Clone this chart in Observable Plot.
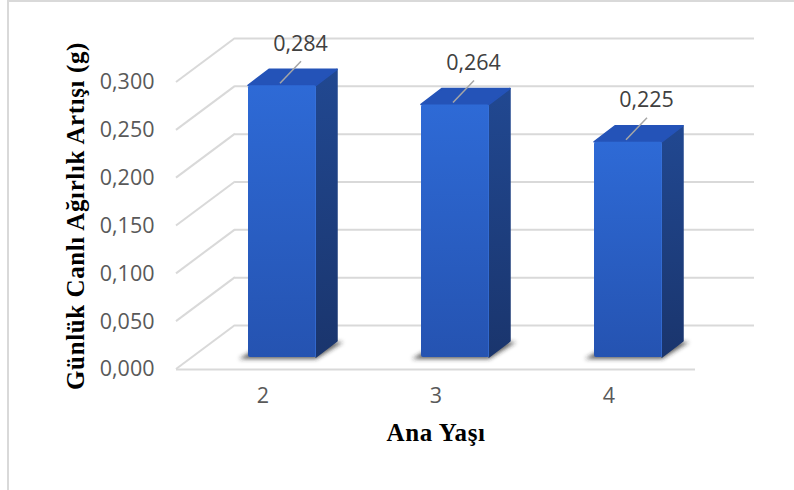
<!DOCTYPE html>
<html>
<head>
<meta charset="utf-8">
<script src="https://cdn.jsdelivr.net/npm/d3@7"></script>
<script src="https://cdn.jsdelivr.net/npm/@observablehq/plot@0.6"></script>
<style>
  body { margin: 0; background: #fff; }
  #chart { position: relative; width: 794px; height: 490px; overflow: hidden; background: #fff; }
  #chart .frame { position: absolute; left: 7px; top: 0; width: 820px; height: 520px;
    border-left: 2px solid #d9d9d9; border-top: 2px solid #d9d9d9; }
  #chart svg { position: absolute; left: 0; top: 0; }
</style>
</head>
<body>
<div id="chart"><div class="frame"></div></div>
<script>
// Daily live-weight gain by dam age
const ages = ["2", "3", "4"];
const gains = [0.284, 0.264, 0.225];
const yTicks = [0, 0.05, 0.1, 0.15, 0.2, 0.25, 0.3];
const xTitle = "Ana Yaşı";
const yTitle = "Günlük Canlı Ağırlık Artışı (g)";

const data = ages.map((age, i) => ({age, gain: gains[i]}));
const fmt = d => d3.format(".3f")(d).replace(".", ",");

// Oblique projection offsets (pixels)
const WALL = {dx: 59, dy: -44};       // front plane -> back wall
const BAR_AT = {dx: 19.5, dy: -12};   // front plane -> bar front face
const BAR_DEPTH = {dx: 21, dy: -16};  // bar front face -> bar back face
const BAR_WIDTH = 68;
const GRID = "#d9d9d9";

// Diagonal gridlines on the left side wall
function sideWall(index, scales, values, dimensions) {
  const g = d3.create("svg:g").attr("stroke", GRID).attr("stroke-width", 2);
  for (const i of index) {
    const y = values.y[i];
    g.append("line")
      .attr("x1", dimensions.marginLeft).attr("y1", y)
      .attr("x2", dimensions.marginLeft + WALL.dx).attr("y2", y + WALL.dy);
  }
  return g.node();
}

// Columns drawn as boxes: shadow, front, side, top, and the label leader
function bars3d(index, scales, values, dimensions) {
  const g = d3.create("svg:g");
  const defs = g.append("defs");
  const grad = (id, stops) => {
    const lg = defs.append("linearGradient").attr("id", id)
      .attr("x1", 0).attr("y1", 0).attr("x2", 0).attr("y2", 1);
    for (const [o, c] of stops) lg.append("stop").attr("offset", o).attr("stop-color", c);
  };
  grad("bar-front", [[0, "#2e6ad6"], [1, "#2553b1"]]);
  grad("bar-side", [[0, "#214891"], [1, "#1a356d"]]);
  defs.append("filter").attr("id", "bar-shadow")
    .attr("x", "-30%").attr("y", "-100%").attr("width", "160%").attr("height", "300%")
    .append("feGaussianBlur").attr("stdDeviation", 2.2);

  const bw = scales.x.bandwidth();
  const pts = a => a.map(p => p.join(",")).join(" ");
  for (const i of index) {
    const x0 = values.x[i] + (bw - BAR_WIDTH) / 2 + BAR_AT.dx;
    const x1 = x0 + BAR_WIDTH;
    const yb = Math.max(values.y1[i], values.y2[i]) + BAR_AT.dy;
    const yt = Math.min(values.y1[i], values.y2[i]) + BAR_AT.dy;
    const dx = BAR_DEPTH.dx, dy = BAR_DEPTH.dy;

    g.append("polygon")
      .attr("points", pts([[x0 - 9, yb + 2], [x1, yb + 2], [x1 + dx + 6, yb + dy + 1], [x0 + dx, yb + dy]]))
      .attr("fill", "#2b2b2b").attr("fill-opacity", 0.75).attr("filter", "url(#bar-shadow)");

    g.append("polygon")
      .attr("points", pts([[x1, yb], [x1, yt], [x1 + dx, yt + dy], [x1 + dx, yb + dy]]))
      .attr("fill", "url(#bar-side)")
      .attr("stroke", "url(#bar-side)").attr("stroke-width", 1.5).attr("stroke-linejoin", "round");

    g.append("polygon")
      .attr("points", pts([[x0, yt], [x1, yt], [x1 + dx, yt + dy], [x0 + dx, yt + dy]]))
      .attr("fill", "#2453b8")
      .attr("stroke", "#2453b8").attr("stroke-width", 1.5).attr("stroke-linejoin", "round");

    g.append("rect")
      .attr("x", x0).attr("y", yt).attr("width", BAR_WIDTH).attr("height", yb - yt)
      .attr("rx", 2).attr("fill", "url(#bar-front)");
    g.append("line")
      .attr("x1", x1 - 0.5).attr("y1", yt + 2).attr("x2", x1 - 0.5).attr("y2", yb)
      .attr("stroke", "#3a74dc").attr("stroke-opacity", 0.6).attr("stroke-width", 1);

    const xc = (x0 + x1) / 2;
    g.append("line")
      .attr("x1", xc - 2).attr("y1", yt - 2).attr("x2", xc + 19).attr("y2", yt - 24)
      .attr("stroke", "#a6a6a6").attr("stroke-width", 1.5);
  }
  return g.node();
}

const chart = Plot.plot({
  width: 794,
  height: 490,
  marginLeft: 176,
  marginRight: 99,
  marginTop: 82,
  marginBottom: 121,
  x: {domain: ages, padding: 0, axis: null},
  y: {domain: [0, 0.3], axis: null},
  style: {fontFamily: "'Open Sans', sans-serif", fontSize: "21.5px", color: "#595959", background: "transparent", overflow: "visible"},
  marks: [
    Plot.ruleY(yTicks, {dx: WALL.dx, dy: WALL.dy, stroke: GRID, strokeWidth: 2}),
    Plot.ruleY(yTicks, {render: sideWall}),
    Plot.ruleY([0], {stroke: GRID, strokeWidth: 2}),
    Plot.text(yTicks, {y: d => d, text: fmt, frameAnchor: "left", dx: -22, textAnchor: "end", fontSize: 21.5, fill: "#595959"}),
    Plot.text(ages, {x: d => d, text: d => d, frameAnchor: "bottom", dy: 33, fontSize: 21.5, fill: "#595959"}),
    Plot.barY(data, {x: "age", y: "gain", render: bars3d}),
    Plot.text(data, {x: "age", y: "gain", text: d => fmt(d.gain), dx: BAR_AT.dx + 18, dy: BAR_AT.dy - 42, fontSize: 21.5, fill: "#404040"}),
    Plot.text([xTitle], {frameAnchor: "bottom", dy: 71, textAnchor: "middle", fontFamily: "'Liberation Serif', serif", fontWeight: "bold", fontSize: 25, fill: "#000"}),
    Plot.text([yTitle], {frameAnchor: "left", dx: -101, dy: -10, rotate: -90, textAnchor: "middle", fontFamily: "'Liberation Serif', serif", fontWeight: "bold", fontSize: 25, fill: "#000"})
  ]
});

d3.select(chart).selectAll("text")
  .filter(function () { return this.textContent === xTitle || this.textContent === yTitle; })
  .attr("letter-spacing", "0.6px");

document.getElementById("chart").appendChild(chart);
</script>
</body>
</html>
